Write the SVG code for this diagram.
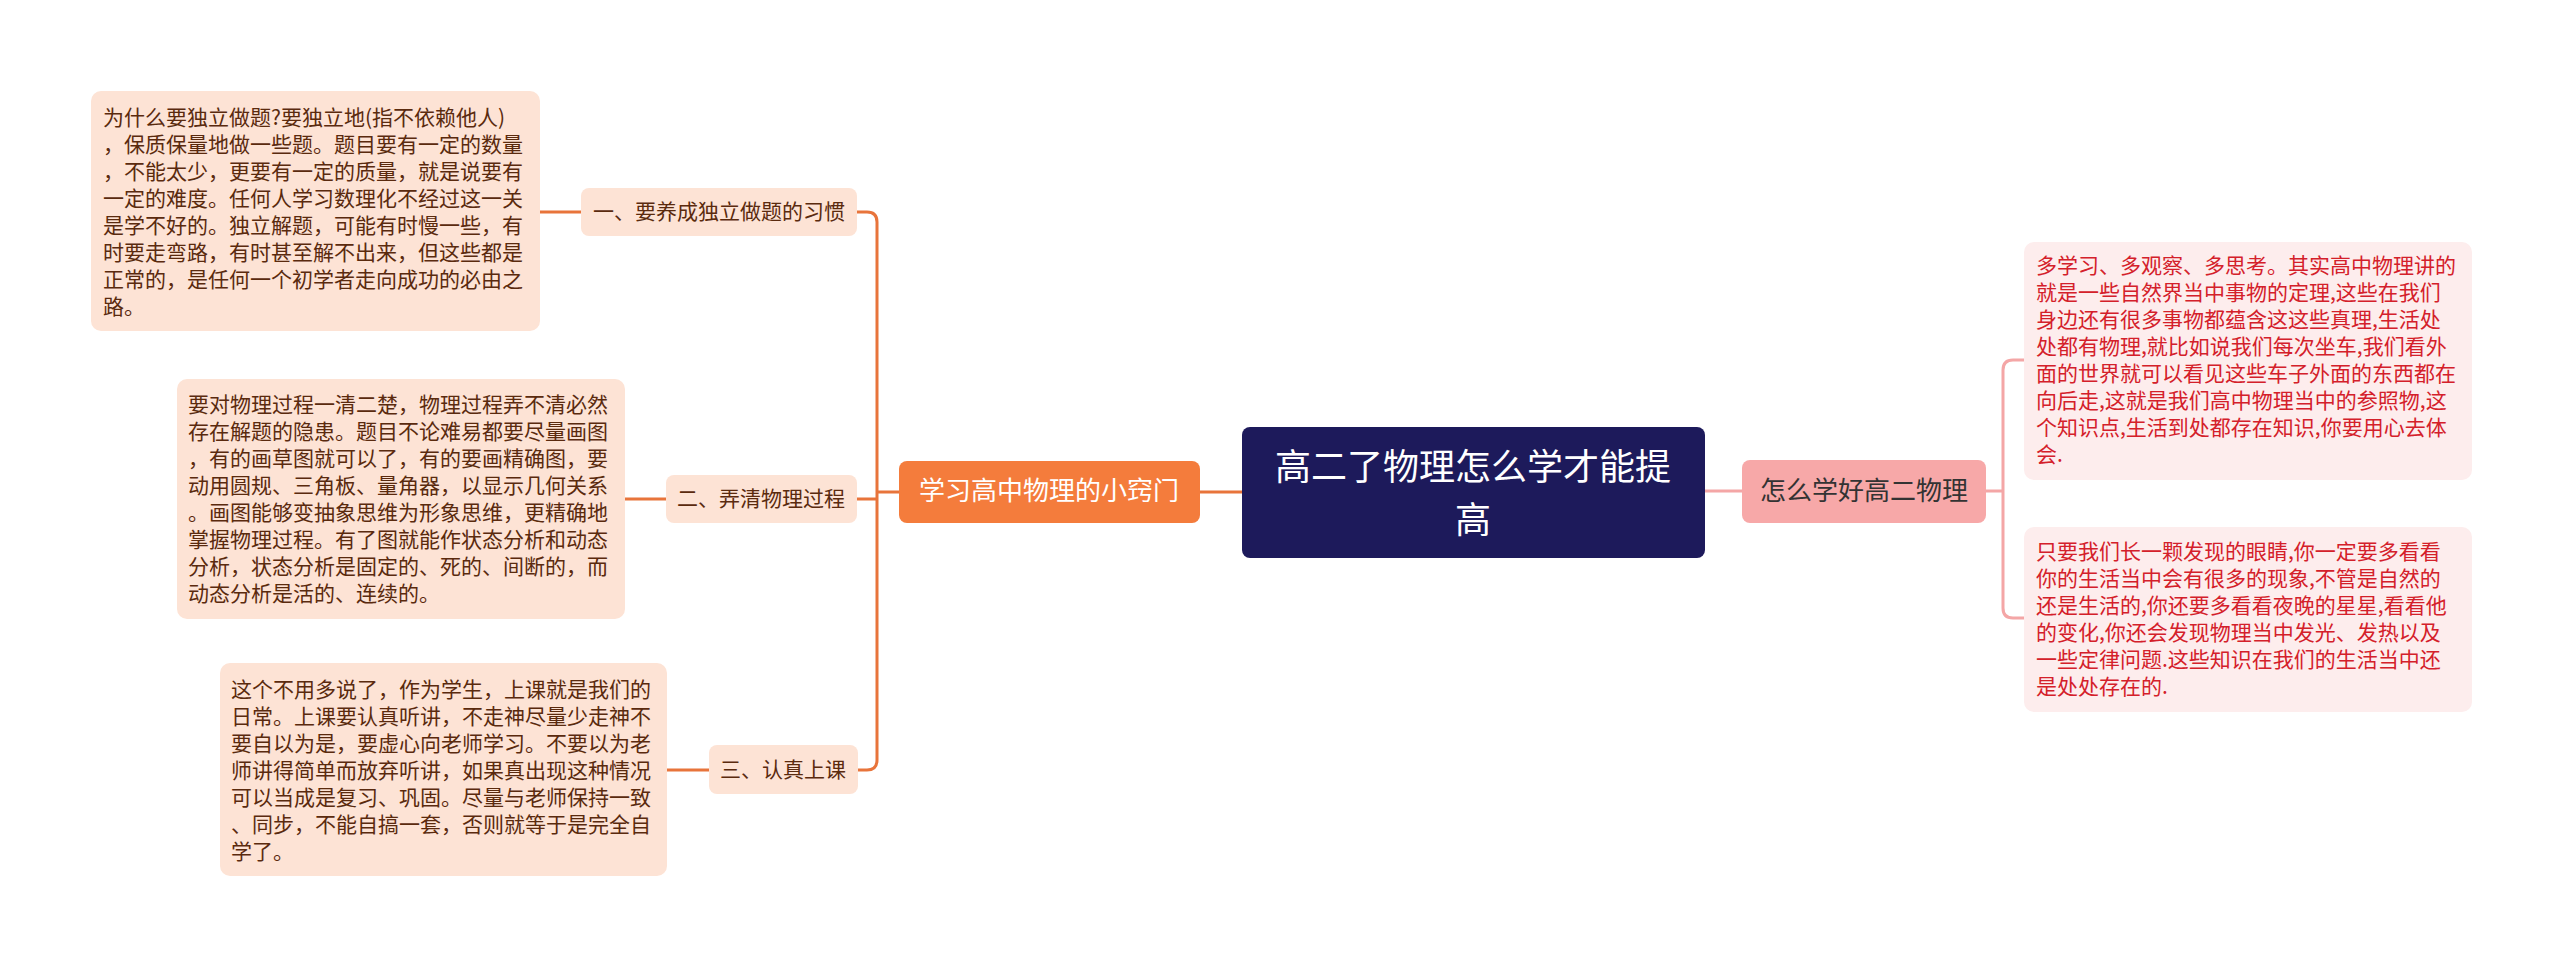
<svg xmlns="http://www.w3.org/2000/svg" width="2560" height="967" viewBox="0 0 2560 967">
<style>
text{font-family:"Noto Sans CJK SC","Noto Sans",sans-serif}
.lb{fill:#fde3d5}
.lt{font-size:21px;fill:#5a2a0e}
.rb{fill:#fdeded}
.rt{font-size:21px;fill:#d4202a}
.lc{fill:none;stroke:#e8743b;stroke-width:3}
.rc{fill:none;stroke:#f4a6a6;stroke-width:3}
</style>
<rect width="2560" height="967" fill="#fff"/>
<g id="connectors">
<path class="lc" d="M1242 492H1200"/>
<path class="lc" d="M899 492H877M857 212H867Q877 212 877 222V760Q877 770 867 770H857M857 499H877"/>
<path class="lc" d="M581 212H540M666 499H625M709 770H667"/>
<path class="rc" d="M1705 491H1746M1983 491H2003M2024 360H2013Q2003 360 2003 370V608Q2003 618 2013 618H2024"/>
</g>
<g id="center">
<rect x="1242" y="427" width="463" height="131" rx="8" fill="#1d1a5b"/>
<text x="1473" y="480" font-size="36" fill="#fff" text-anchor="middle">高二了物理怎么学才能提</text>
<text x="1473" y="533" font-size="36" fill="#fff" text-anchor="middle">高</text>
</g>
<g id="left-main">
<rect x="899" y="461" width="301" height="62" rx="8" fill="#f47c3c"/>
<text x="1049" y="500" font-size="26" fill="#fff" text-anchor="middle">学习高中物理的小窍门</text>
</g>
<g id="right-main">
<rect x="1742" y="460" width="244" height="63" rx="8" fill="#f7a8a8"/>
<text x="1864" y="500" font-size="26" fill="#333" text-anchor="middle">怎么学好高二物理</text>
</g>
<g id="sub1">
<rect class="lb" x="581" y="188" width="276" height="48" rx="8"/>
<text class="lt" x="719" y="219" text-anchor="middle">一、要养成独立做题的习惯</text>
</g>
<g id="sub2">
<rect class="lb" x="666" y="475" width="191" height="48" rx="8"/>
<text class="lt" x="761" y="506" text-anchor="middle">二、弄清物理过程</text>
</g>
<g id="sub3">
<rect class="lb" x="709" y="745" width="149" height="49" rx="8"/>
<text class="lt" x="783" y="777" text-anchor="middle">三、认真上课</text>
</g>
<g id="note1">
<rect class="lb" x="91" y="91" width="449" height="240" rx="10"/>
<text class="lt"><tspan x="103" y="125">为什么要独立做题?要独立地(指不依赖他人)</tspan><tspan x="103" y="152">，保质保量地做一些题。题目要有一定的数量</tspan><tspan x="103" y="179">，不能太少，更要有一定的质量，就是说要有</tspan><tspan x="103" y="206">一定的难度。任何人学习数理化不经过这一关</tspan><tspan x="103" y="233">是学不好的。独立解题，可能有时慢一些，有</tspan><tspan x="103" y="260">时要走弯路，有时甚至解不出来，但这些都是</tspan><tspan x="103" y="287">正常的，是任何一个初学者走向成功的必由之</tspan><tspan x="103" y="314">路。</tspan></text>
</g>
<g id="note2">
<rect class="lb" x="177" y="379" width="448" height="240" rx="10"/>
<text class="lt"><tspan x="188" y="412">要对物理过程一清二楚，物理过程弄不清必然</tspan><tspan x="188" y="439">存在解题的隐患。题目不论难易都要尽量画图</tspan><tspan x="188" y="466">，有的画草图就可以了，有的要画精确图，要</tspan><tspan x="188" y="493">动用圆规、三角板、量角器，以显示几何关系</tspan><tspan x="188" y="520">。画图能够变抽象思维为形象思维，更精确地</tspan><tspan x="188" y="547">掌握物理过程。有了图就能作状态分析和动态</tspan><tspan x="188" y="574">分析，状态分析是固定的、死的、间断的，而</tspan><tspan x="188" y="601">动态分析是活的、连续的。</tspan></text>
</g>
<g id="note3">
<rect class="lb" x="220" y="663" width="447" height="213" rx="10"/>
<text class="lt"><tspan x="231" y="697">这个不用多说了，作为学生，上课就是我们的</tspan><tspan x="231" y="724">日常。上课要认真听讲，不走神尽量少走神不</tspan><tspan x="231" y="751">要自以为是，要虚心向老师学习。不要以为老</tspan><tspan x="231" y="778">师讲得简单而放弃听讲，如果真出现这种情况</tspan><tspan x="231" y="805">可以当成是复习、巩固。尽量与老师保持一致</tspan><tspan x="231" y="832">、同步，不能自搞一套，否则就等于是完全自</tspan><tspan x="231" y="859">学了。</tspan></text>
</g>
<g id="note4">
<rect class="rb" x="2024" y="242" width="448" height="238" rx="10"/>
<text class="rt"><tspan x="2036" y="273">多学习、多观察、多思考。其实高中物理讲的</tspan><tspan x="2036" y="300">就是一些自然界当中事物的定理,这些在我们</tspan><tspan x="2036" y="327">身边还有很多事物都蕴含这这些真理,生活处</tspan><tspan x="2036" y="354">处都有物理,就比如说我们每次坐车,我们看外</tspan><tspan x="2036" y="381">面的世界就可以看见这些车子外面的东西都在</tspan><tspan x="2036" y="408">向后走,这就是我们高中物理当中的参照物,这</tspan><tspan x="2036" y="435">个知识点,生活到处都存在知识,你要用心去体</tspan><tspan x="2036" y="462">会.</tspan></text>
</g>
<g id="note5">
<rect class="rb" x="2024" y="527" width="448" height="185" rx="10"/>
<text class="rt"><tspan x="2036" y="559">只要我们长一颗发现的眼睛,你一定要多看看</tspan><tspan x="2036" y="586">你的生活当中会有很多的现象,不管是自然的</tspan><tspan x="2036" y="613">还是生活的,你还要多看看夜晚的星星,看看他</tspan><tspan x="2036" y="640">的变化,你还会发现物理当中发光、发热以及</tspan><tspan x="2036" y="667">一些定律问题.这些知识在我们的生活当中还</tspan><tspan x="2036" y="694">是处处存在的.</tspan></text>
</g>
</svg>
